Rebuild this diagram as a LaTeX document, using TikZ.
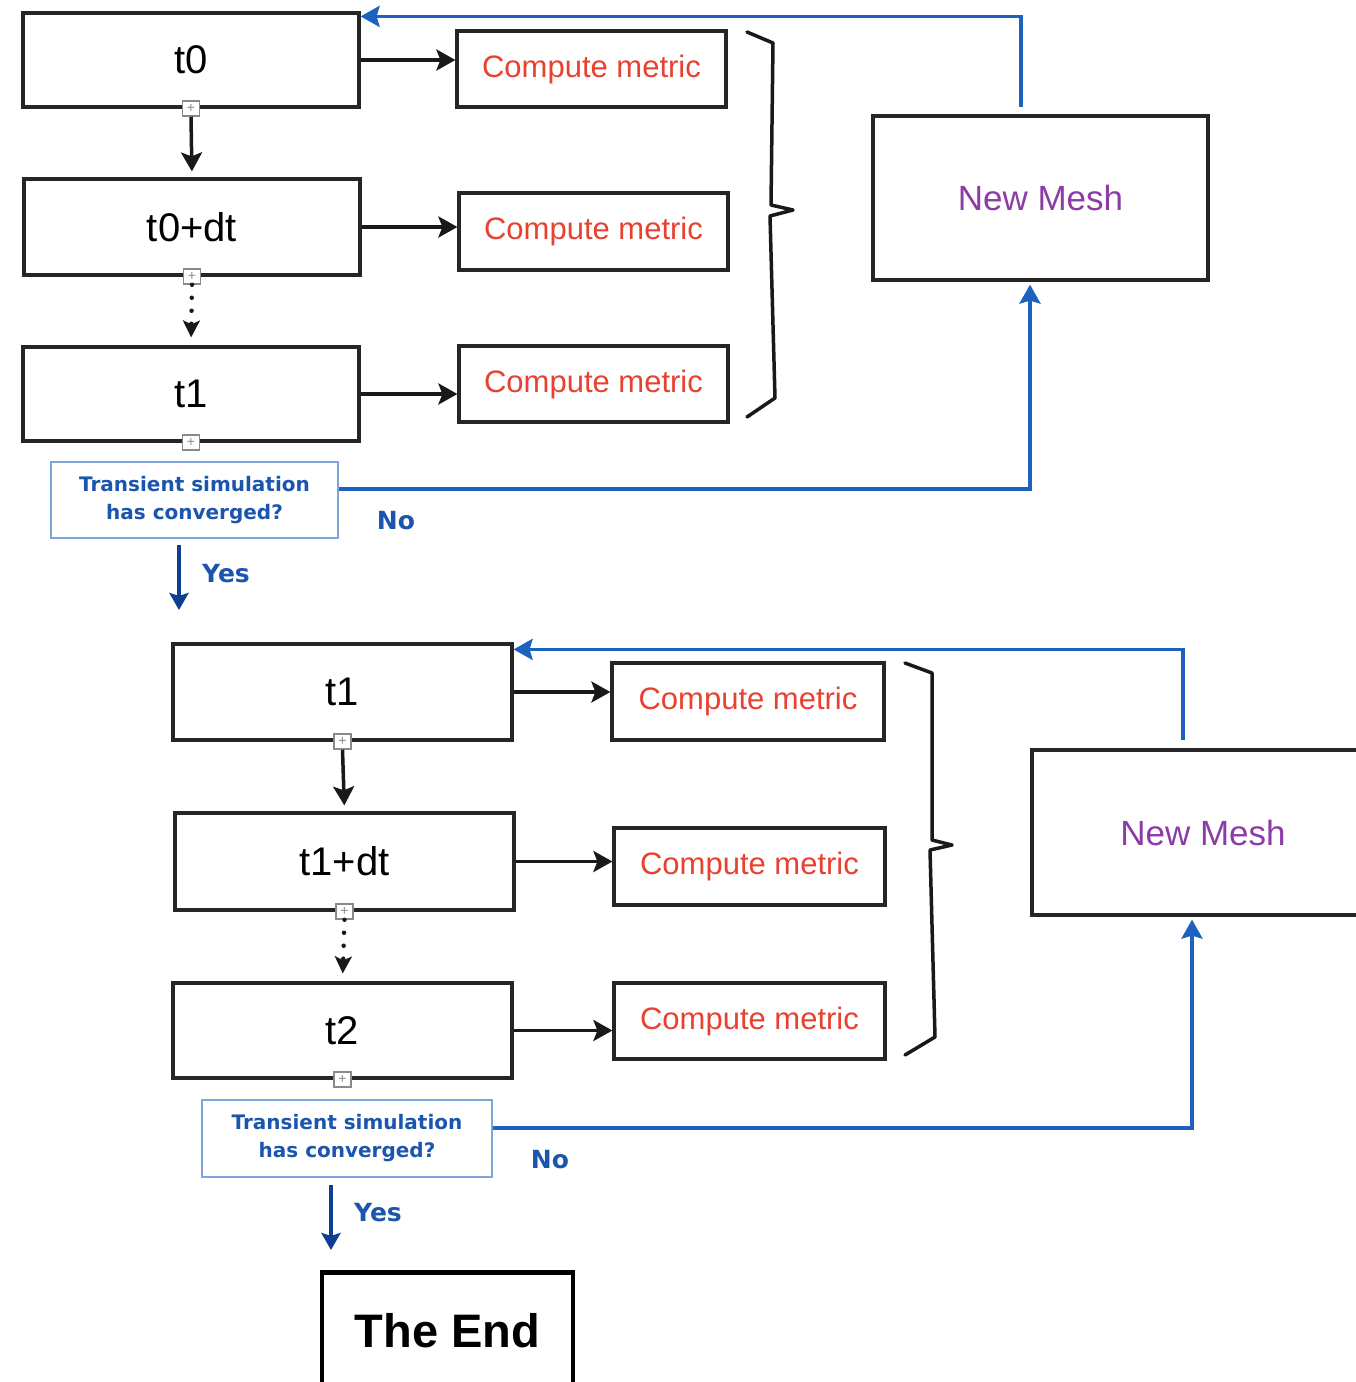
\documentclass[tikz,border=0pt]{standalone}
\usepackage{fontspec}
\setmainfont{Liberation Sans}
\newfontfamily\dejavu{DejaVu Sans}
\usetikzlibrary{arrows.meta}
\definecolor{lineblue}{HTML}{1E62C0}
\definecolor{navy}{HTML}{0D3E92}
\definecolor{qblue}{HTML}{1B55AD}
\definecolor{qborder}{HTML}{7FA6DC}
\definecolor{metricred}{HTML}{E8412F}
\definecolor{meshpurple}{HTML}{8C3BA7}
\definecolor{handlegray}{HTML}{8A8A8A}
\begin{document}
\begin{tikzpicture}[x=1pt,y=-1pt,
  stepbox/.style={draw=black!85, line width=3.2pt, inner sep=0pt, font=\fontsize{40}{48}\selectfont},
  metricbox/.style={draw=black!85, line width=3.2pt, inner sep=0pt, text=metricred, font=\fontsize{31}{37}\selectfont},
  meshbox/.style={draw=black!85, line width=3.2pt, inner sep=0pt, text=meshpurple, font=\fontsize{35}{41}\selectfont},
  qbox/.style={draw=qborder, line width=1.8pt, inner sep=0pt, text=qblue, align=center, font=\dejavu\bfseries\fontsize{20}{28}\selectfont},
  answer/.style={text=qblue, font=\dejavu\bfseries\fontsize{25}{30}\selectfont, inner sep=0pt},
  endbox/.style={draw=black, line width=4.5pt, inner sep=0pt, font=\bfseries\fontsize{47}{56}\selectfont},
  handle/.style={draw=handlegray, fill=white, line width=1.3pt, minimum width=17pt, minimum height=15pt, inner sep=0pt, text=handlegray, font=\fontsize{14}{14}\selectfont},
  arr/.style={draw=black!90, line width=3.5pt, -{Stealth[length=19pt,width=21pt,inset=4pt]}},
  dotarr/.style={draw=black!90, line width=4.5pt, line cap=round, dash pattern=on 0pt off 13pt, -{Stealth[length=17pt,width=17pt,inset=4pt]}},
  bluearr/.style={draw=lineblue, line width=3.5pt, -{Stealth[length=19pt,width=21pt,inset=3pt]}},
  yesarr/.style={draw=navy, line width=3.5pt, -{Stealth[length=17pt,width=19pt,inset=3pt]}},
  bracestyle/.style={draw=black!90, line width=3.5pt, line join=round, line cap=round},
]
\useasboundingbox (0,0) rectangle (1356,1382);
\fill[white] (0,0) rectangle (1356,1382);
\clip (0,0) rectangle (1356,1382);

% ---------- top section ----------
\node[stepbox, minimum width=336pt, minimum height=94pt] (t0) at (191,60) {t0};
\node[stepbox, minimum width=336pt, minimum height=96pt] (t0dt) at (192,227) {t0+dt};
\node[stepbox, minimum width=336pt, minimum height=94pt] (t1a) at (191,394) {t1};
\node[metricbox, minimum width=269pt, minimum height=76pt] (cm1) at (591.5,69) {Compute metric};
\node[metricbox, minimum width=269pt, minimum height=77pt] (cm2) at (593.5,231.5) {Compute metric};
\node[metricbox, minimum width=269pt, minimum height=76pt] (cm3) at (593.5,384) {Compute metric};
\node[meshbox, minimum width=335pt, minimum height=164pt] (nm1) at (1040.5,198) {New Mesh};
\node[qbox, minimum width=287pt, minimum height=76pt] (tr1) at (194.5,500) {Transient simulation\\has converged?};
\node[answer] (no1) at (396,521) {No};
\node[answer] (yes1) at (226,574) {Yes};

\node[handle] (h1) at (t0.south) {+};
\node[handle] (h2) at (t0dt.south) {+};
\node[handle] (h3) at (t1a.south) {+};

\draw[arr, shorten >=6pt] (h1.south) -- (t0dt.north);
\draw[dotarr, shorten >=8pt] (h2.south) -- (t1a.north);
\draw[arr] (t0.east) -- (t0.east -| cm1.west);
\draw[arr] (t0dt.east) -- (t0dt.east -| cm2.west);
\draw[arr] (t1a.east) -- (t1a.east -| cm3.west);

\draw[bracestyle] (747,32) -- (773,43) -- (771,205) -- (793,210) -- (770,216) -- (775,398) -- (747,417);

\coordinate (r1) at (1021,107);
\draw[bluearr] (r1) |- ([yshift=-5pt]t0.north east);
\draw[bluearr, shorten >=3pt] ([yshift=11pt]tr1.east) -| ([xshift=-10.5pt]nm1.south);
\coordinate (y1s) at (179,545);
\coordinate (y1e) at (179,610);
\draw[yesarr] (y1s) -- (y1e);

% ---------- bottom section ----------
\node[stepbox, minimum width=339pt, minimum height=96pt] (t1b) at (342.5,692) {t1};
\node[stepbox, minimum width=339pt, minimum height=97pt] (t1dt) at (344.5,861.5) {t1+dt};
\node[stepbox, minimum width=339pt, minimum height=95pt] (t2) at (342.5,1030.5) {t2};
\node[metricbox, minimum width=272pt, minimum height=77pt] (cm4) at (748,701.5) {Compute metric};
\node[metricbox, minimum width=271pt, minimum height=77pt] (cm5) at (749.5,866.5) {Compute metric};
\node[metricbox, minimum width=271pt, minimum height=76pt] (cm6) at (749.5,1021) {Compute metric};
\node[meshbox, minimum width=342pt, minimum height=165pt] (nm2) at (1203,832.5) {New Mesh};
\node[qbox, minimum width=290pt, minimum height=77pt] (tr2) at (347,1138.5) {Transient simulation\\has converged?};
\node[answer] (no2) at (550,1160) {No};
\node[answer] (yes2) at (378,1213) {Yes};
\node[endbox, minimum width=251pt, minimum height=116pt, anchor=north] (theend) at (447.5,1270) {The End};

\node[handle] (h4) at (t1b.south) {+};
\node[handle] (h5) at (t1dt.south) {+};
\node[handle] (h6) at (t2.south) {+};

\draw[arr, shorten >=6pt] (h4.south) -- (t1dt.north);
\draw[dotarr, shorten >=8pt] (h5.south) -- (t2.north);
\draw[arr] (t1b.east) -- (t1b.east -| cm4.west);
\draw[arr] (t1dt.east) -- (t1dt.east -| cm5.west);
\draw[arr] (t2.east) -- (t2.east -| cm6.west);

\draw[bracestyle] (905,663) -- (932,673) -- (932,840) -- (952,845) -- (930,850) -- (935,1037) -- (905,1055);

\coordinate (r2) at (1183,740);
\draw[bluearr] (r2) |- ([yshift=-7pt]t1b.north east);
\draw[bluearr, shorten >=3pt] ([yshift=10.5pt]tr2.east) -| ([xshift=-11pt]nm2.south);
\coordinate (y2s) at (331,1185);
\coordinate (y2e) at (331,1250);
\draw[yesarr] (y2s) -- (y2e);
\end{tikzpicture}
\end{document}
